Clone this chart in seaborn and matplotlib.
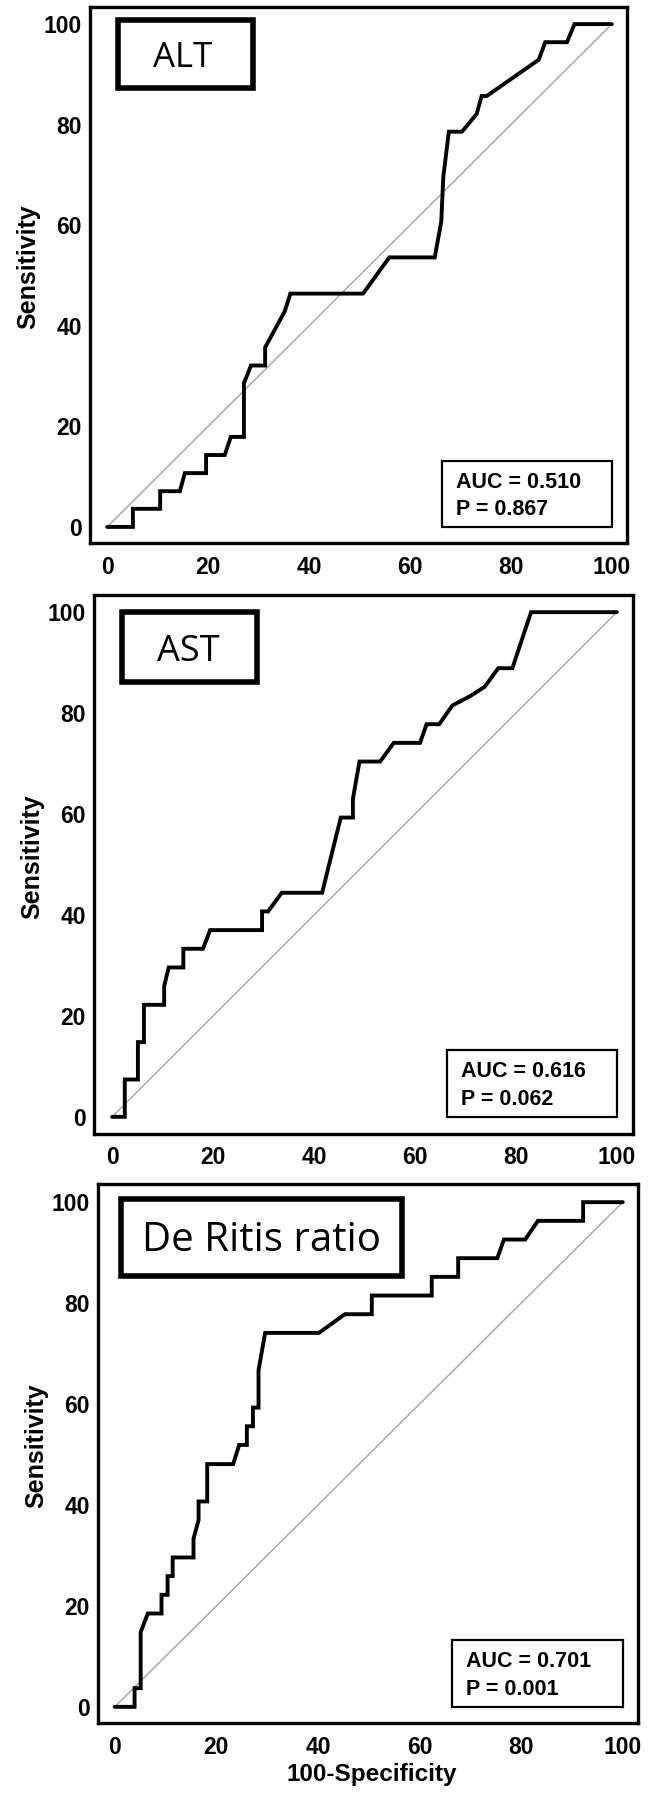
import matplotlib
matplotlib.use("Agg")
import matplotlib.pyplot as plt
from matplotlib.patches import Rectangle
import seaborn as sns

# ---------------- data ----------------
panel_titles = ["ALT", "AST", "De Ritis ratio"]
auc_texts = ["AUC = 0.510\nP = 0.867", "AUC = 0.616\nP = 0.062", "AUC = 0.701\nP = 0.001"]

alt_x = [0, 5.1, 5.1, 10.5, 10.5, 14.4, 15.4, 19.6, 19.6, 23.3,
         24.5, 27.1, 27.1, 28.5, 31.3, 31.3, 35.2, 36.3, 50.7, 55.9,
         64.9, 66.2, 66.6, 67.7, 70.3, 73.2, 74.2, 75.2, 85.5, 86.8,
         91.1, 92.6, 100]
alt_y = [0, 0, 3.6, 3.6, 7.1, 7.1, 10.7, 10.7, 14.3, 14.3,
         17.9, 17.9, 28.6, 32.1, 32.1, 35.7, 42.9, 46.4, 46.4, 53.6,
         53.6, 60.7, 69.6, 78.6, 78.6, 82.1, 85.7, 85.7, 92.9, 96.4,
         96.4, 100, 100]

ast_x = [0, 2.5, 2.5, 5.1, 5.1, 6.3, 6.3, 10.3, 10.3, 11.2,
         14.1, 14.1, 18.0, 19.4, 29.7, 29.7, 30.9, 33.6, 41.6, 45.3,
         47.7, 47.7, 49.0, 53.1, 55.8, 61.0, 62.3, 64.8, 67.4, 71.0,
         73.8, 76.5, 79.3, 83.0, 100]
ast_y = [0, 0, 7.4, 7.4, 14.8, 14.8, 22.2, 22.2, 25.9, 29.6,
         29.6, 33.3, 33.3, 37.0, 37.0, 40.7, 40.7, 44.4, 44.4, 59.3,
         59.3, 63.0, 70.4, 70.4, 74.1, 74.1, 77.8, 77.8, 81.5, 83.4,
         85.2, 88.9, 88.9, 100, 100]

dr_x = [0, 3.9, 3.9, 5.1, 5.1, 6.5, 9.2, 9.2, 10.4, 10.4,
        11.4, 11.4, 15.5, 15.5, 16.5, 16.5, 18.2, 18.2, 23.3, 24.5,
        26.0, 26.0, 27.2, 27.2, 28.3, 28.3, 29.6, 40.2, 45.3, 50.6,
        50.6, 62.4, 62.4, 67.6, 67.6, 75.3, 76.6, 80.8, 83.3, 92.2,
        92.2, 100]
dr_y = [0, 0, 3.7, 3.7, 14.8, 18.5, 18.5, 22.2, 22.2, 25.9,
        25.9, 29.6, 29.6, 33.3, 37.0, 40.7, 40.7, 48.1, 48.1, 51.9,
        51.9, 55.6, 55.6, 59.3, 59.3, 66.7, 74.1, 74.1, 77.8, 77.8,
        81.5, 81.5, 85.2, 85.2, 88.9, 88.9, 92.6, 92.6, 96.3, 96.3,
        100, 100]

ref_x = [0, 100]
ref_y = [0, 100]
ticks = [0, 20, 40, 60, 80, 100]

curves = [(alt_x, alt_y), (ast_x, ast_y), (dr_x, dr_y)]

# ---------------- layout ----------------
sns.set_theme(style="white")
plt.rcParams["font.family"] = ["Liberation Sans", "DejaVu Sans"]

fig = plt.figure(figsize=(6.51, 17.96), dpi=100)
rects = [
    [90 / 651, 1 - 543 / 1796, 537 / 651, 536 / 1796],
    [94 / 651, 1 - 1134 / 1796, 539 / 651, 539 / 1796],
    [98 / 651, 1 - 1723 / 1796, 540 / 651, 539 / 1796],
]
xlims = [(-3.4, 103.0), (-3.6, 103.2), (-3.3, 103.0)]
ylims = [(-3.2, 103.4), (-3.4, 103.4), (-3.2, 103.6)]
title_boxes = [  # x0, y0, x1, y1
    (2.2, 87.3, 28.9, 100.9),
    (1.9, 86.1, 28.7, 100.0),
    (1.3, 85.3, 56.6, 100.6),
]
title_pos = [(14.9, 91.4), (15.0, 90.4), (28.8, 90.3)]
title_sizes = [25, 26, 29]

for i, ax_rect in enumerate(rects):
    ax = fig.add_axes(ax_rect)
    xs, ys = curves[i]
    sns.lineplot(x=ref_x, y=ref_y, ax=ax, color="#a3a3a3", linewidth=1.0)
    sns.lineplot(x=xs, y=ys, ax=ax, sort=False, estimator=None,
                 color="black", linewidth=2.8, solid_joinstyle="miter")
    ax.set_xlim(*xlims[i])
    ax.set_ylim(*ylims[i])
    ax.set_xticks(ticks)
    ax.set_yticks(ticks)
    ax.tick_params(axis="both", direction="in", length=11.5, width=2.0,
                   colors="black", labelsize=16.5, pad=6.0)
    ax.tick_params(axis="x", pad=9.0)
    for lab in ax.get_xticklabels() + ax.get_yticklabels():
        lab.set_fontweight("bold")
    for sp in ax.spines.values():
        sp.set_visible(True)
        sp.set_color("black")
        sp.set_linewidth(2.4)
    ax.set_ylabel("Sensitivity", fontsize=18, fontweight="bold", color="black")
    ax.yaxis.set_label_coords(-0.092, 0.515)
    if i == 2:
        ax.set_xlabel("100-Specificity", fontsize=17.5, fontweight="bold", color="black")
        ax.xaxis.set_label_coords(0.507, -0.075)
    else:
        ax.set_xlabel("")

    # title box
    x0, y0, x1, y1 = title_boxes[i]
    ax.add_patch(Rectangle((x0, y0), x1 - x0, y1 - y0, fill=True,
                           facecolor="white", edgecolor="black", linewidth=4.0,
                           zorder=5))
    ax.text(title_pos[i][0], title_pos[i][1], panel_titles[i],
            family=["Open Sans", "DejaVu Sans"], fontsize=title_sizes[i],
            ha="center", va="baseline", color="black", zorder=6)

    # AUC box
    ax.add_patch(Rectangle((66.4, 0), 100 - 66.4, 13.2, fill=True,
                           facecolor="white", edgecolor="black", linewidth=1.6,
                           zorder=5))
    line1, line2 = auc_texts[i].split("\n")
    ax.text(69.1, 7.8, line1, fontsize=15.5, fontweight="bold",
            ha="left", va="baseline", color="black", zorder=6)
    ax.text(69.1, 2.4, line2, fontsize=15.5, fontweight="bold",
            ha="left", va="baseline", color="black", zorder=6)

fig.savefig("out.png", dpi=100, facecolor="white")
